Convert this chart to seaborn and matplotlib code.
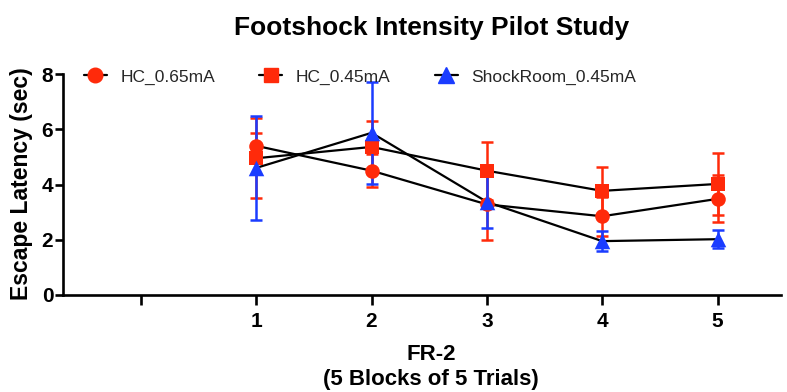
import matplotlib
matplotlib.use("Agg")
import matplotlib.pyplot as plt
from matplotlib.lines import Line2D
import seaborn as sns
import pandas as pd

# ---- data ----
blocks = [1, 2, 3, 4, 5]
groups = ["HC_0.65mA", "HC_0.45mA", "ShockRoom_0.45mA"]
hc065_mean = [5.40, 4.50, 3.28, 2.85, 3.48]
hc065_err = [0.47, 0.60, 1.30, 0.70, 0.85]
hc045_mean = [4.95, 5.36, 4.50, 3.77, 4.02]
hc045_err = [1.45, 0.95, 1.05, 0.85, 1.12]
shock_mean = [4.60, 5.87, 3.37, 1.95, 2.02]
shock_err = [1.88, 1.85, 0.95, 0.35, 0.33]
x_ticks = [0, 1, 2, 3, 4, 5]
x_tick_labels = ["", "1", "2", "3", "4", "5"]
y_ticks = [0, 2, 4, 6, 8]

RED = "#FF2A0A"
BLUE = "#1A3CFF"
colors = {"HC_0.65mA": RED, "HC_0.45mA": RED, "ShockRoom_0.45mA": BLUE}
markers = {"HC_0.65mA": "o", "HC_0.45mA": "s", "ShockRoom_0.45mA": "^"}
sizes = {"HC_0.65mA": 110, "HC_0.45mA": 105, "ShockRoom_0.45mA": 125}

means = [hc065_mean, hc045_mean, shock_mean]
errs = [hc065_err, hc045_err, shock_err]
rows = []
for g, m, e in zip(groups, means, errs):
    for b, mv, ev in zip(blocks, m, e):
        rows.append({"block": b, "latency": mv, "sem": ev, "group": g})
df = pd.DataFrame(rows)

sns.set_theme(style="white")
plt.rcParams["font.family"] = ["Liberation Sans", "DejaVu Sans"]

fig = plt.figure(figsize=(7.87, 3.92), dpi=100)
ax = fig.add_axes([63 / 787, 1 - 295 / 392, (781 - 63) / 787, (295 - 74) / 392])

# connecting lines
sns.lineplot(data=df, x="block", y="latency", units="group", estimator=None,
             color="black", linewidth=1.6, ax=ax, zorder=2, legend=False)

# error bars
for g in groups:
    sub = df[df["group"] == g]
    ax.errorbar(sub["block"], sub["latency"], yerr=sub["sem"], fmt="none",
                ecolor=colors[g], elinewidth=1.8, capsize=4, capthick=1.8, zorder=3)

# markers
for g in groups:
    sub = df[df["group"] == g]
    sns.scatterplot(data=sub, x="block", y="latency", marker=markers[g],
                    color=colors[g], s=sizes[g], edgecolor=colors[g], linewidth=0,
                    ax=ax, zorder=4, legend=False)

ax.set_xlim(-0.675, 5.55)
ax.set_ylim(0, 8)
ax.set_xticks(x_ticks)
ax.set_xticklabels(x_tick_labels)
ax.set_yticks(y_ticks)
ax.set_xlabel("")
ax.set_ylabel("")
for sp in ["top", "right"]:
    ax.spines[sp].set_visible(False)
for sp in ["left", "bottom"]:
    ax.spines[sp].set_color("black")
    ax.spines[sp].set_linewidth(1.9)
ax.tick_params(axis="y", direction="out", length=6, width=1.9, color="black",
               labelsize=15, pad=1, left=True)
ax.tick_params(axis="x", direction="out", length=7, width=1.9, color="black",
               labelsize=15, pad=5, bottom=True)
for lab in ax.get_xticklabels() + ax.get_yticklabels():
    lab.set_fontweight("bold")
    lab.set_color("black")
ax.grid(False)

fig.text(432 / 787, 1 - 28 / 392, "Footshock Intensity Pilot Study",
         ha="center", va="center", fontsize=19, fontweight="bold", color="black")
fig.text(22 / 787, 1 - 184 / 392, "Escape Latency (sec)", rotation=90,
         ha="center", va="center", fontsize=16.5, fontweight="bold", color="black")
fig.text(431 / 787, 1 - 367 / 392, "FR-2\n(5 Blocks of 5 Trials)",
         ha="center", va="center", fontsize=16, fontweight="bold", color="black",
         linespacing=1.25)

handles = [Line2D([0], [0], color="black", lw=1.6, marker=markers[g],
                  markerfacecolor=colors[g], markeredgecolor=colors[g],
                  markersize=10.5 if g != "ShockRoom_0.45mA" else 11)
           for g in groups]
fig.legend(handles, groups, loc="center left", bbox_to_anchor=(84 / 787, 1 - 77 / 392),
           ncol=3, frameon=False, fontsize=12.5, handlelength=1.3, handletextpad=0.8,
           columnspacing=2.55, borderpad=0, borderaxespad=0)

fig.savefig("out.png", dpi=100)
